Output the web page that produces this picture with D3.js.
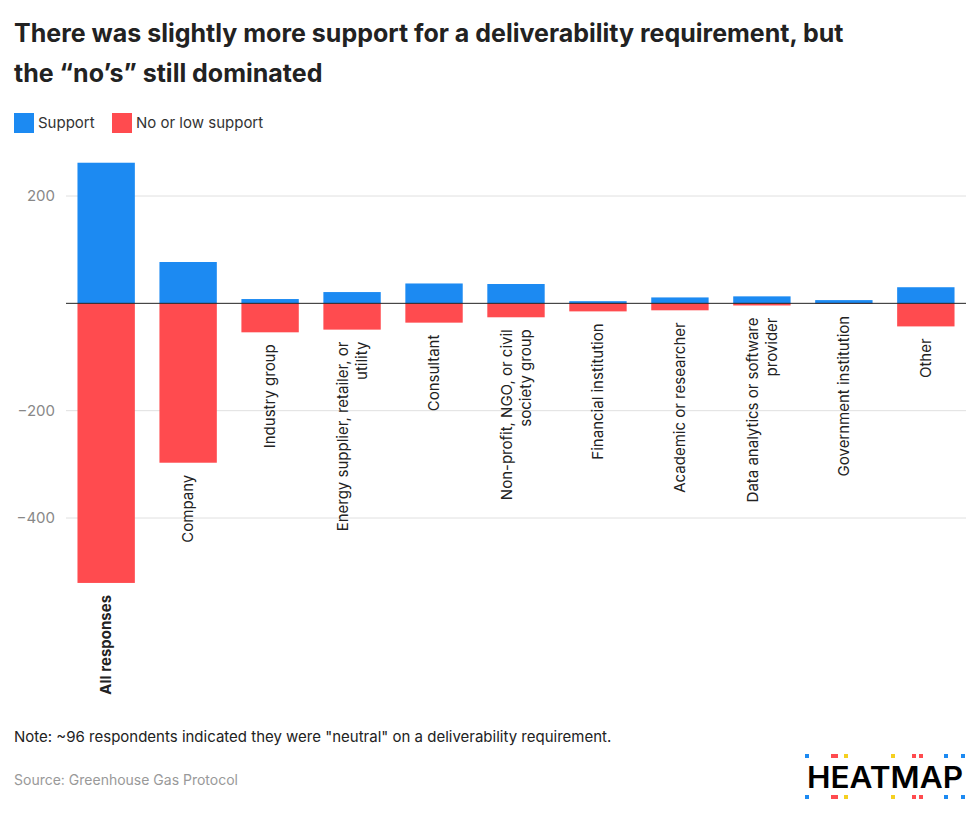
<!DOCTYPE html>
<html><head><meta charset="utf-8">
<script src="https://cdn.jsdelivr.net/npm/d3@7"></script>
<style>body{margin:0;background:#fff;font-family:Inter,"Noto Sans",sans-serif}</style>
</head><body><svg id="c" width="980" height="820"></svg>
<script>
const categories=["All responses","Company","Industry group","Energy supplier, retailer, or utility","Consultant","Non-profit, NGO, or civil society group","Financial institution","Academic or researcher","Data analytics or software provider","Government institution","Other"];
const support=[262,77,8,21,37,36,4,11,13,6,30];
const noSupport=[521,297,54,49,36,26,15,13,4,1,43];
const yTicks=[-400,-200,200];
const svg=d3.select("#c");
svg.append("text").attr("x",14).attr("y",42).attr("font-size",25).attr("font-weight",700).attr("fill","#222").text("There was slightly more support for a deliverability requirement, but");
svg.append("text").attr("x",14).attr("y",82).attr("font-size",25).attr("font-weight",700).attr("fill","#222").text("the “no’s” still dominated");
const lg=[["Support","#1c8af2",14],["No or low support","#ff4b4f",112]];
lg.forEach(([t,c,x])=>{svg.append("rect").attr("x",x).attr("y",113).attr("width",20).attr("height",20).attr("fill",c);
svg.append("text").attr("x",x+24).attr("y",128).attr("font-size",15).attr("fill","#333").text(t);});
const y=d3.scaleLinear().domain([-400,200]).range([518,196]);
const x=d3.scaleBand().domain(categories).range([66,966]).paddingInner(0.3).paddingOuter(0.14);
const g=svg.append("g");
yTicks.forEach(t=>{g.append("line").attr("x1",66).attr("x2",966).attr("y1",y(t)).attr("y2",y(t)).attr("stroke","#e0e0e0");
g.append("text").attr("x",55).attr("y",y(t)+5).attr("text-anchor","end").attr("font-size",15).attr("fill","#888").text(t<0?"−"+(-t):t);});
g.selectAll(".s").data(categories).join("rect").attr("x",d=>x(d)).attr("width",x.bandwidth()).attr("y",(d,i)=>y(support[i])).attr("height",(d,i)=>y(0)-y(support[i])).attr("fill","#1c8af2");
g.selectAll(".n").data(categories).join("rect").attr("x",d=>x(d)).attr("width",x.bandwidth()).attr("y",y(0)).attr("height",(d,i)=>y(-noSupport[i])-y(0)).attr("fill","#ff4b4f");
g.append("line").attr("x1",66).attr("x2",966).attr("y1",y(0)).attr("y2",y(0)).attr("stroke","#222");
categories.forEach((c,i)=>{
 const cx=x(c)+x.bandwidth()/2, ty=y(-noSupport[i])+12;
 const words=c.split(" ");let lines=[c];
 if(c.length>24){let acc="",b="";
   for(const w of words){ if((acc+w).length<=28 && b===""){acc+=(acc?" ":"")+w;} else b+=(b?" ":"")+w;}
   lines=[acc,b];}
 const t=g.append("text").attr("transform",`translate(${cx},${ty}) rotate(-90)`).attr("text-anchor","end").attr("font-size",15).attr("fill","#222").attr("font-weight",i===0?700:400);
 const off=lines.length===2?-4:5;
 lines.forEach((l,k)=>t.append("tspan").attr("x",0).attr("y",off+k*19).text(l));
});
svg.append("text").attr("x",14).attr("y",742).attr("font-size",15).attr("fill","#222").text('Note: ~96 respondents indicated they were "neutral" on a deliverability requirement.');
svg.append("text").attr("x",14).attr("y",785).attr("font-size",14).attr("fill","#999").text("Source: Greenhouse Gas Protocol");
svg.append("text").attr("x",807).attr("y",788).attr("font-size",30).attr("font-weight",600).attr("fill","#000").attr("textLength",156).attr("lengthAdjust","spacingAndGlyphs").text("HEATMAP");
const dots=[[807,"#1c8af2"],[833,"#ff4b4f"],[836,"#ff4b4f"],[846,"#f5d020"],[893,"#f5d020"],[914,"#ff4b4f"],[921,"#ff4b4f"],[946,"#1c8af2"],[963,"#1c8af2"]];
dots.forEach(([dx,c])=>[756,797].forEach(dy=>svg.append("rect").attr("x",dx-2).attr("y",dy-2).attr("width",4).attr("height",4).attr("fill",c)));
</script></body></html>
